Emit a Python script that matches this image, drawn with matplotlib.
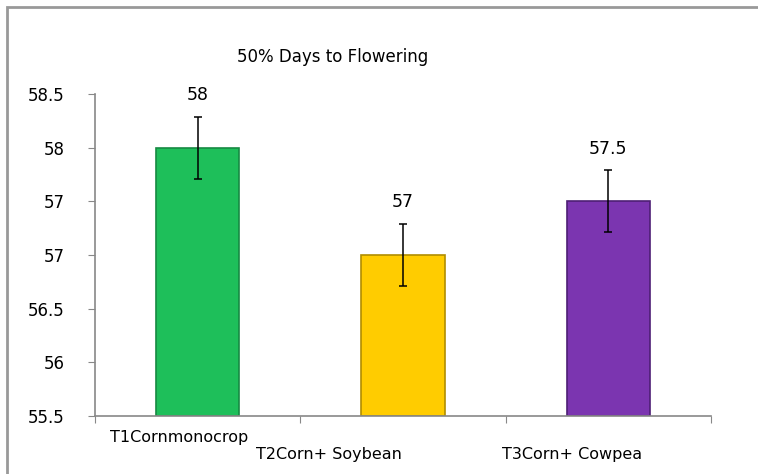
import matplotlib.pyplot as plt
from matplotlib.patches import Rectangle

# data
categories = ['T1Cornmonocrop', 'T2Corn+ Soybean', 'T3Corn+ Cowpea']
values = [58, 57, 57.5]
errors = [0.29, 0.29, 0.29]
value_labels = ['58', '57', '57.5']
colors = ['#1ebf5a', '#ffcc00', '#7b35b0']
edges = ['#168a42', '#b08d00', '#4e1f75']
yticks = [55.5, 56, 56.5, 57, 57.5, 58, 58.5]
ytick_labels = ['55.5', '56', '56.5', '57', '57', '58', '58.5']

fig = plt.figure(figsize=(7.58, 4.74), dpi=100)
ax = fig.add_axes([95 / 758, 1 - 416 / 474, 616 / 758, 322 / 474])

x = range(len(categories))
ax.bar(x, [v - 55.5 for v in values], bottom=55.5, width=0.405,
       color=colors, edgecolor=edges, linewidth=1.2, zorder=2)
ax.errorbar(x, values, yerr=errors, fmt='none', ecolor='black',
            elinewidth=1.1, capsize=3, capthick=1.1, zorder=3)

for i in x:
    ax.annotate(value_labels[i], (i, values[i] + errors[i]),
                xytext=(0, 9), textcoords='offset points',
                ha='center', va='bottom', fontsize=12.5)

ax.set_xlim(-0.5, 2.5)
ax.set_ylim(55.5, 58.5)
ax.set_yticks(yticks)
ax.set_yticklabels(ytick_labels, fontsize=12)
ax.set_xticks([-0.5, 0.5, 1.5, 2.5])
ax.set_xticklabels([])
ax.tick_params(axis='both', direction='out', length=5, color='#888888')
ax.tick_params(axis='y', pad=17)
ax.tick_params(axis='x', pad=2)

for s in ['top', 'right']:
    ax.spines[s].set_visible(False)
for s in ['left', 'bottom']:
    ax.spines[s].set_color('#888888')
    ax.spines[s].set_linewidth(1.2)

# category labels, staggered like the original
label_x = [-0.427, 0.284, 1.482]
label_y = [-0.068, -0.121, -0.121]
for i, name in enumerate(categories):
    ax.text(label_x[i], label_y[i], name, transform=ax.get_xaxis_transform(),
            ha='left', va='center', fontsize=11.5)

fig.text(333 / 758, 1 - 57 / 474, '50% Days to Flowering', ha='center',
         va='center', fontsize=12)

# outer frame
fig.patches.append(Rectangle((7 / 758, -0.1), 1.2, 1 - 7 / 474 + 0.1,
                             transform=fig.transFigure, fill=False,
                             edgecolor='#999999', linewidth=2))

fig.savefig('out.png', dpi=100)
